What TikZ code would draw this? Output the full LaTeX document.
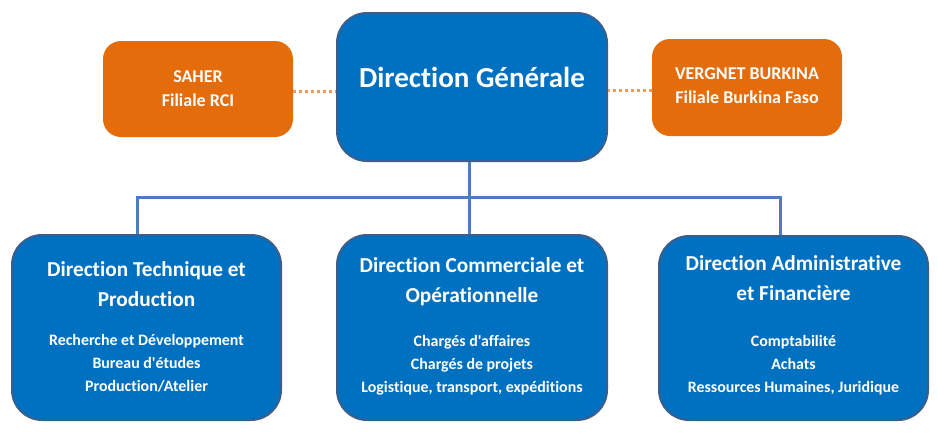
\documentclass[tikz,border=0pt]{standalone}
\usepackage{fontspec}
\setmainfont{Carlito}[Ligatures={TeXOff,NoCommon}]
\definecolor{boxblue}{HTML}{0070C0}
\definecolor{boxedge}{HTML}{3B5E8C}
\definecolor{orangebox}{HTML}{E46C0A}
\definecolor{dotorange}{HTML}{F29A5C}
\definecolor{linkblue}{HTML}{4A7EC2}
\tikzset{
  bluebox/.style={draw=boxedge, line width=2pt, fill=boxblue, rounded corners=30pt, inner sep=0pt},
  orangebox/.style={fill=orangebox, rounded corners=18pt, inner sep=0pt},
  wtext/.style={text=white, font=\bfseries, align=center, inner sep=0pt},
  conn/.style={draw=linkblue, line width=3pt},
  dotconn/.style={draw=dotorange, line width=3pt, dash pattern=on 3pt off 3pt},
}
\begin{document}
\begin{tikzpicture}[x=1pt,y=-1pt]
\useasboundingbox (0,0) rectangle (938,432);
% boxes
\node[orangebox, minimum width=190pt, minimum height=96pt] (saher) at (198,89) {};
\node[bluebox, minimum width=270pt, minimum height=148pt] (dg) at (472,87) {};
\node[orangebox, minimum width=190pt, minimum height=97pt] (verg) at (747,87.5) {};
\node[bluebox, minimum width=269pt, minimum height=185pt] (dt) at (146.5,327.5) {};
\node[bluebox, minimum width=270pt, minimum height=185pt] (dc) at (472,327.5) {};
\node[bluebox, minimum width=269pt, minimum height=184pt] (da) at (793.5,328) {};
% connectors
\coordinate (bus) at (469,197);
\coordinate (busL) at (137,197);
\coordinate (busR) at (780,197);
\coordinate (dotL) at (293,91);
\coordinate (dotR) at (652,90);
\draw[dotconn] (dotL) -- (dotL -| dg.west);
\draw[dotconn] (dotR) -- (dotR -| dg.east);
\draw[conn] (bus |- dg.south) -- (bus);
\draw[conn] (busL |- dt.north) -- (busL) -- (busR) -- (busR |- da.north);
\draw[conn] (bus) -- (bus |- dc.north);
% texts
\node[wtext, font=\bfseries\fontsize{29}{34}\selectfont] (dgt) at (472,77) {Direction Générale};
\node[wtext, font=\bfseries\fontsize{18}{24}\selectfont] (saht) at (198,89) {SAHER\\Filiale RCI};
\node[wtext, font=\bfseries\fontsize{18}{24}\selectfont] (vert) at (747,86) {VERGNET BURKINA\\Filiale Burkina Faso};
\node[wtext, font=\bfseries\fontsize{21.3}{30}\selectfont] (dtt) at (146.5,284) {Direction Technique et\\Production};
\node[wtext, font=\bfseries\fontsize{15.9}{23}\selectfont] (dti) at (146.5,363) {Recherche et Développement\\Bureau d'études\\Production/Atelier};
\node[wtext, font=\bfseries\fontsize{21.3}{30}\selectfont] (dct) at (472,282) {Direction Commerciale et\\Opérationnelle};
\node[wtext, font=\bfseries\fontsize{15.9}{23}\selectfont] (dci) at (472,365) {Chargés d'affaires\\Chargés de projets\\Logistique, transport, expéditions};
\node[wtext, font=\bfseries\fontsize{21.3}{30}\selectfont] (dat) at (793.5,278) {Direction Administrative\\et Financière};
\node[wtext, font=\bfseries\fontsize{15.9}{23}\selectfont] (dai) at (793.5,365) {Comptabilité\\Achats\\Ressources Humaines, Juridique};
\end{tikzpicture}
\end{document}
